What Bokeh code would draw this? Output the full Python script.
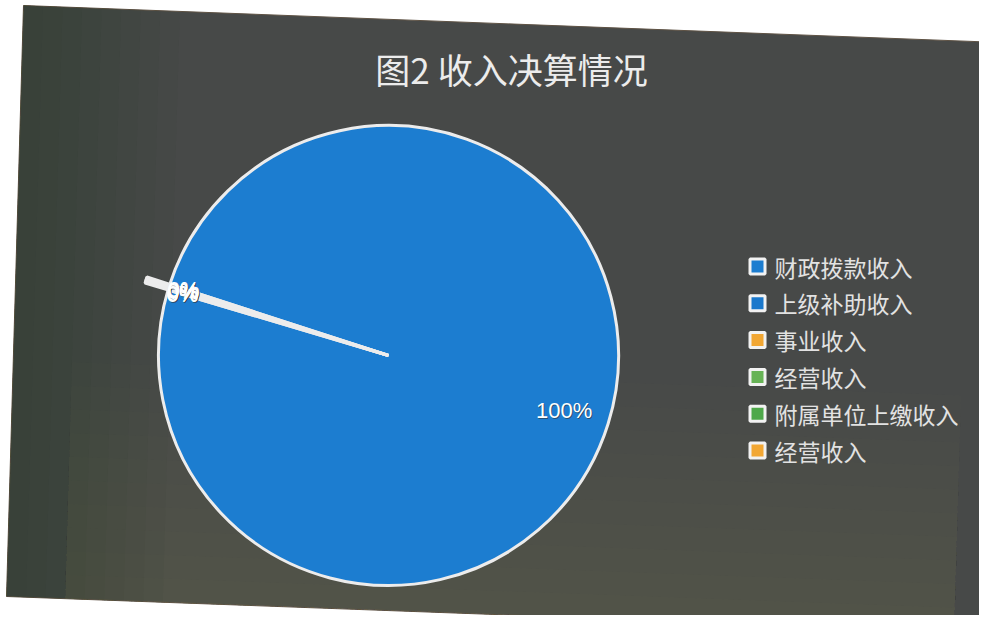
import numpy as np
from bokeh.plotting import figure
from bokeh.models import Range1d, ColumnDataSource
from bokeh.core.properties import value
from bokeh.embed import file_html
from bokeh.resources import INLINE

# ---- data ----
title = "图2 收入决算情况"
categories = ["财政拨款收入", "上级补助收入", "事业收入", "经营收入", "附属单位上缴收入", "经营收入"]
shares = [99.6, 0.0, 0.15, 0.05, 0.1, 0.1]
colors = ["#1c7dd0", "#1a78cc", "#f2a733", "#67b356", "#4ea84a", "#f2a733"]

# ---- layout / style ----
W, H = 979, 615
cx, cy, R = 388, 260, 230
start_deg = 162.0

p = figure(width=W, height=H, output_backend="svg", toolbar_location=None,
           x_range=Range1d(0, W), y_range=Range1d(0, H), min_border=0)
p.axis.visible = False
p.grid.visible = False
p.outline_line_color = None
p.background_fill_color = "white"
p.border_fill_color = "white"

# photographed dark slide background (slightly rotated quad)
quad = np.array([[6, 19], [983, -17], [1000, 573], [23, 610]], dtype=float)  # BL, BR, TR, TL


def qpt(u, v):
    bl, br, tr, tl = quad
    bottom = bl + (br - bl) * u
    top = tl + (tr - tl) * u
    return bottom + (top - bottom) * v


def region(u0, u1, v0, v1):
    pts = [qpt(u0, v0), qpt(u1, v0), qpt(u1, v1), qpt(u0, v1)]
    return [q[0] for q in pts], [q[1] for q in pts]


xs, ys = region(0, 1, 0, 1)
p.patch(xs, ys, fill_color="#474948", line_color="#5e5244", line_width=1)
# lighter lower area (soft steps)
for t in np.linspace(0.04, 0.40, 10):
    xs, ys = region(0.06, 0.97, 0, t)
    p.patch(xs, ys, fill_color="#6a6a68", fill_alpha=0.045, line_color=None)
# darker left strip (soft steps)
for t in np.linspace(0.02, 0.16, 8):
    xs, ys = region(0, t, 0, 1)
    p.patch(xs, ys, fill_color="#2c3231", fill_alpha=0.05, line_color=None)

# pie slices (clockwise from start angle)
vals = np.array(shares, dtype=float)
frac = vals / vals.sum()
cum = np.concatenate([[0], np.cumsum(frac)])
starts = np.deg2rad(start_deg) - 2 * np.pi * cum[:-1]
ends = np.deg2rad(start_deg) - 2 * np.pi * cum[1:]
radii = np.where(frac > 0.05, R, R + 24)
keep = vals > 0
src = ColumnDataSource(dict(start=starts[keep], end=ends[keep],
                            color=np.array(colors)[keep], r=radii[keep]))
p.wedge(x=cx, y=cy, radius="r", start_angle="start", end_angle="end", direction="clock",
        fill_color="color", line_color="#ececec", line_width=3, source=src)

# data labels
mids = (starts + ends) / 2
lab_r = np.where(frac > 0.05, 0.8 * R, 0.935 * R)
lx = cx + lab_r * np.cos(mids)
ly = cy + lab_r * np.sin(mids)
labels = [f"{round(v)}%" for v in vals]
p.text(x=lx + 1, y=ly - 1, text=labels, text_color="#333333", text_font=value("Liberation Sans"),
       text_font_size="22px", text_align="center", text_baseline="middle", text_alpha=0.6)
p.text(x=lx, y=ly, text=labels, text_color="white", text_font=value("Liberation Sans"),
       text_font_size="22px", text_align="center", text_baseline="middle")

# title
p.text(x=[511], y=[547], text=[title], text_color="#ececec", text_font=value("Noto Sans CJK SC"),
       text_font_size="35px", text_align="center", text_baseline="middle")

# legend
ly0, lstep = 349, 36.8
leg_y = [ly0 - i * lstep for i in range(len(categories))]
p.scatter(x=[757] * len(categories), y=leg_y, marker="square", size=15,
          fill_color=colors, line_color="#f2f2f2", line_width=3)
p.text(x=[774] * len(categories), y=leg_y, text=categories, text_color="#e2e2e2",
       text_font=value("Noto Sans CJK SC"), text_font_size="23px",
       text_align="left", text_baseline="middle")

open("out.html", "w").write(file_html(p, INLINE))
